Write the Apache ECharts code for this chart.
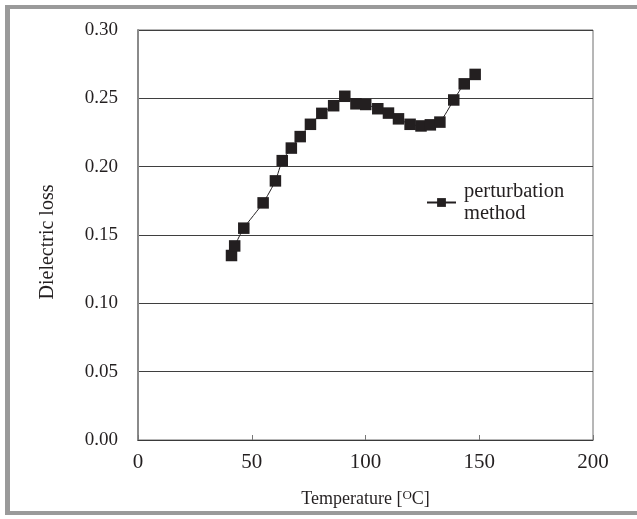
<!DOCTYPE html>
<html>
<head>
<meta charset="utf-8">
<style>
  html, body { margin: 0; padding: 0; background: #fff; }
  #frame {
    position: absolute; left: 5px; top: 5px; width: 632px; height: 510px;
    border-left: 5px solid #9a9a9a; border-top: 4px solid #9a9a9a; border-bottom: 4px solid #9a9a9a;
    box-sizing: border-box;
  }
  #Echarts { position: absolute; left: 0; top: 0; width: 637px; height: 519px; }
</style>
<script src="https://cdn.jsdelivr.net/npm/echarts@6/dist/echarts.min.js"></script>
</head>
<body>
<div id="frame"></div>
<div id="Echarts"></div>
<script>
// temperature [°C]
var temps = [41.1, 42.5, 46.5, 55.0, 60.4, 63.4, 67.4, 71.3, 75.8, 80.8, 86.0, 90.9,
             95.8, 100.1, 105.4, 110.1, 114.5, 119.6, 124.4, 128.5, 132.7, 138.8, 143.4, 148.2];
// dielectric loss
var loss = [0.135, 0.142, 0.155, 0.1735, 0.1896, 0.2044, 0.2136, 0.222, 0.231, 0.239, 0.2446, 0.2515,
            0.246, 0.2455, 0.2424, 0.2392, 0.235, 0.231, 0.2298, 0.2306, 0.2326, 0.2488, 0.2606, 0.2675];
var seriesName = 'perturbation\nmethod';

var serif = '"Liberation Serif", "DejaVu Serif", serif';
var myChart = echarts.init(document.getElementById('Echarts'));

var option = {
    animation: false,
    grid: {
        left: 138, top: 30, width: 455, height: 410,
        show: true, borderColor: '#6e6e6e', borderWidth: 1, backgroundColor: 'transparent'
    },
    legend: {
        left: 426, top: 180, padding: 0,
        itemWidth: 29, itemHeight: 11,
        data: [seriesName],
        textStyle: { fontFamily: serif, fontSize: 20.5, lineHeight: 22.5, color: '#231f20', padding: [0, 0, 0, 3] }
    },
    xAxis: {
        type: 'value', min: 0, max: 200, interval: 50,
        name: 'Temperature [{s|O}C]',
        nameLocation: 'middle', nameGap: 49,
        nameTextStyle: {
            fontFamily: serif, fontSize: 18, color: '#231f20',
            rich: { s: { fontFamily: serif, fontSize: 13, color: '#231f20', padding: [0, 0, 7, 0] } }
        },
        axisLine: { show: true, lineStyle: { color: '#3a3a3a', width: 1 } },
        axisTick: { show: true, inside: true, length: 5, lineStyle: { color: '#777' } },
        axisLabel: { fontFamily: serif, fontSize: 21, color: '#231f20', margin: 12 },
        splitLine: { show: false }
    },
    yAxis: {
        type: 'value', min: 0, max: 0.3, interval: 0.05,
        name: 'Dielectric loss',
        nameLocation: 'middle', nameGap: 80, nameRotate: 90,
        nameTextStyle: { fontFamily: serif, fontSize: 20, color: '#231f20', padding: [0, 14, 0, 0] },
        axisLine: { show: true, lineStyle: { color: '#8a8a8a', width: 2 } },
        axisTick: { show: false },
        axisLabel: {
            fontFamily: serif, fontSize: 19, color: '#231f20', margin: 20,
            formatter: function (v) { return v.toFixed(2); }
        },
        splitLine: { show: true, lineStyle: { color: '#3f3f3f', width: 1 } }
    },
    series: [{
        name: seriesName,
        type: 'line',
        smooth: 0.2,
        data: temps.map(function (t, i) { return [t, loss[i]]; }),
        symbol: 'rect',
        symbolSize: 11.5,
        itemStyle: { color: '#231f20' },
        lineStyle: { color: '#231f20', width: 1 }
    }]
};

myChart.setOption(option);
</script>
</body>
</html>
